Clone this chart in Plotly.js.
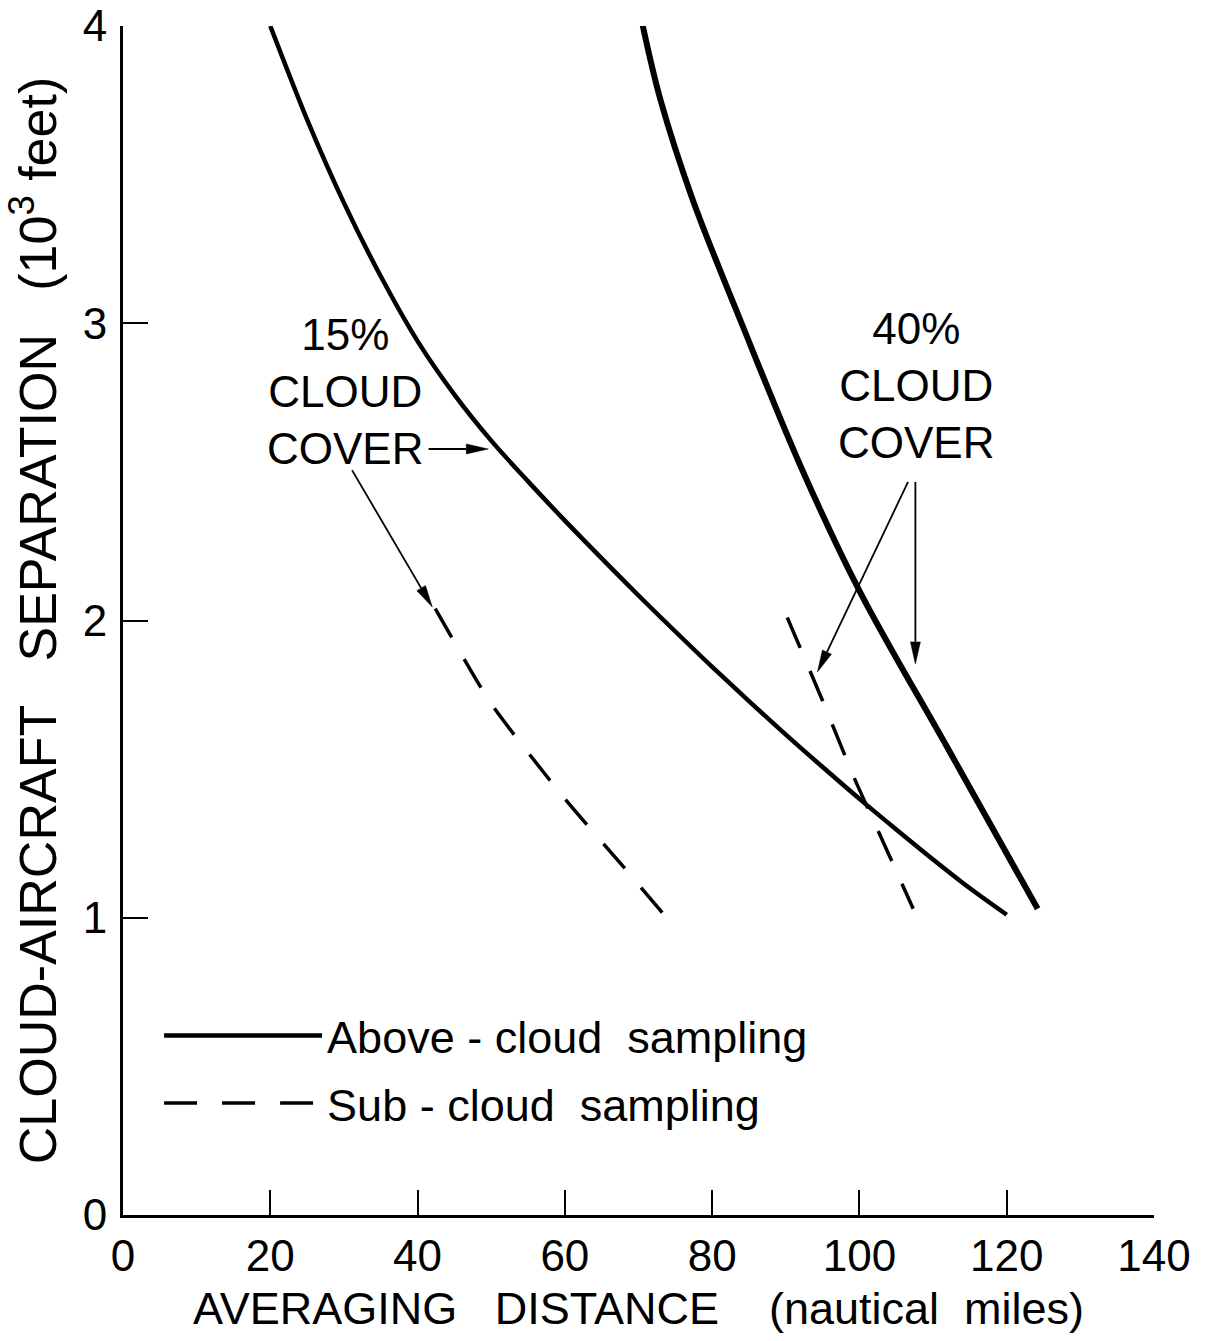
<!DOCTYPE html>
<html>
<head>
<meta charset="utf-8">
<script src="https://cdn.plot.ly/plotly-3.0.1.min.js"></script>
<style>html,body{margin:0;padding:0;background:#fff;}#chart{width:1205px;height:1341px;}</style>
</head>
<body>
<div id="chart"></div>
<script>
// Averaging distance (nautical miles) vs cloud-aircraft separation (10^3 ft)
const above15X = [20, 25, 30, 35, 40, 45, 50, 55, 60, 65, 70, 75, 80, 85, 90, 95, 100, 105, 110, 115, 120];
const above15Y = [4.0, 3.685, 3.405, 3.158, 2.94, 2.76, 2.605, 2.468, 2.336, 2.209, 2.084, 1.963, 1.844, 1.729, 1.616, 1.507, 1.40, 1.297, 1.196, 1.099, 1.01];

const above40X = [70.5, 73, 77.3, 84, 92, 100, 112, 124.2];
const above40Y = [4.01, 3.75, 3.42, 3.0, 2.52, 2.10, 1.57, 1.03];

const sub15X = [42.4, 50, 60, 68, 73.8];
const sub15Y = [2.04, 1.72, 1.40, 1.17, 1.0];

const sub40X = [90.2, 95, 99.3, 103.5, 107.3];
const sub40Y = [2.01, 1.73, 1.47, 1.24, 1.03];

const xTicks = [0, 20, 40, 60, 80, 100, 120, 140];
const yTicks = [0, 1, 2, 3, 4];

const seriesNames = ['Above - cloud&nbsp;&nbsp;sampling', 'Sub - cloud&nbsp;&nbsp;sampling'];
const labels15 = '15%<br>CLOUD<br>COVER';
const labels40 = '40%<br>CLOUD<br>COVER';

const FONT = 'Liberation Sans, Arial, sans-serif';
const LABEL_FONT = {size: 44, family: FONT, color: '#000'};

const W = 1205, H = 1341;
const M = {l: 123, r: 51, t: 26, b: 126};
const X_RANGE = [0, 140], Y_RANGE = [0, 4];
const PX_X = (W - M.l - M.r) / (X_RANGE[1] - X_RANGE[0]);
const PX_Y = (H - M.t - M.b) / (Y_RANGE[1] - Y_RANGE[0]);

// Pointer arrows (tail -> head) in data units, drawn as shapes
function arrowShapes(tx, ty, hx, hy) {
  const headLen = 22, halfW = 5;
  const dx = (hx - tx) * PX_X, dy = -(hy - ty) * PX_Y;
  const len = Math.hypot(dx, dy);
  const ux = dx / len, uy = dy / len;
  const toData = (px, py) => [tx + px / PX_X, ty - py / PX_Y];
  const base = [dx - ux * headLen, dy - uy * headLen];
  const b = toData(base[0], base[1]);
  const p1 = toData(base[0] - uy * halfW, base[1] + ux * halfW);
  const p2 = toData(base[0] + uy * halfW, base[1] - ux * halfW);
  return [
    {type: 'line', xref: 'x', yref: 'y', x0: tx, y0: ty, x1: b[0], y1: b[1], line: {color: '#000', width: 1.8}},
    {type: 'path', xref: 'x', yref: 'y', path: `M${hx},${hy} L${p1[0]},${p1[1]} L${p2[0]},${p2[1]} Z`,
     fillcolor: '#000', line: {color: '#000', width: 0.5}}
  ];
}

const traces = [
  {x: above15X, y: above15Y, mode: 'lines', line: {color: '#000', width: 4.5, shape: 'spline', smoothing: 0.8},
   name: seriesNames[0], legendgroup: 'above', showlegend: true},
  {x: above40X, y: above40Y, mode: 'lines', line: {color: '#000', width: 6, shape: 'spline', smoothing: 1},
   name: seriesNames[0], legendgroup: 'above', showlegend: false},
  {x: sub15X, y: sub15Y, mode: 'lines', line: {color: '#000', width: 3.5, dash: '33px,25px', shape: 'spline', smoothing: 0.6},
   name: seriesNames[1], legendgroup: 'sub', showlegend: true},
  {x: sub40X, y: sub40Y, mode: 'lines', line: {color: '#000', width: 3.5, dash: '33px,25px', shape: 'spline', smoothing: 0.6},
   name: seriesNames[1], legendgroup: 'sub', showlegend: false}
];

const layout = {
  width: W, height: H,
  margin: M,
  paper_bgcolor: '#fff', plot_bgcolor: '#fff',
  font: {family: FONT, color: '#000'},
  showlegend: true,
  legend: {x: 0.035, y: 0.181, xanchor: 'left', yanchor: 'top', bgcolor: 'rgba(0,0,0,0)',
    font: {size: 45, family: FONT, color: '#000'}, itemwidth: 158, tracegroupgap: 6, traceorder: 'grouped'},
  xaxis: {range: X_RANGE, tickvals: xTicks, ticktext: xTicks.map(String),
    showgrid: false, zeroline: false, showline: true, linecolor: '#000', linewidth: 3,
    ticks: 'inside', ticklen: 25, tickwidth: 2, tickcolor: '#000',
    tickfont: {size: 44, family: FONT, color: '#000'},
    title: {text: 'AVERAGING&nbsp;&nbsp; DISTANCE&nbsp;&nbsp;&nbsp; (nautical&nbsp; miles)', font: {size: 45, family: FONT, color: '#000'}, standoff: 14}},
  yaxis: {range: Y_RANGE, tickvals: yTicks, ticktext: yTicks.map(String),
    showgrid: false, zeroline: false, showline: true, linecolor: '#000', linewidth: 3,
    ticks: 'inside', ticklen: 25, tickwidth: 2, tickcolor: '#000', ticklabelstandoff: 4,
    tickfont: {size: 44, family: FONT, color: '#000'},
    title: {text: 'CLOUD-AIRCRAFT&nbsp;&nbsp; SEPARATION&nbsp;&nbsp; (10<sup>3</sup> feet)', font: {size: 52, family: FONT, color: '#000'}, standoff: 10}},
  annotations: [
    {x: 30.2, y: 2.77, xref: 'x', yref: 'y', text: labels15, showarrow: false,
     xanchor: 'center', yanchor: 'middle', align: 'center', font: LABEL_FONT},
    {x: 107.7, y: 2.79, xref: 'x', yref: 'y', text: labels40, showarrow: false,
     xanchor: 'center', yanchor: 'middle', align: 'center', font: LABEL_FONT}
  ],
  shapes: [].concat(
    arrowShapes(41.5, 2.577, 49.6, 2.577),
    arrowShapes(31.1, 2.506, 42.0, 2.045),
    arrowShapes(106.6, 2.466, 94.3, 1.827),
    arrowShapes(107.6, 2.466, 107.6, 1.854)
  )
};

Plotly.newPlot('chart', traces, layout, {displayModeBar: false, staticPlot: true});
</script>
</body>
</html>
